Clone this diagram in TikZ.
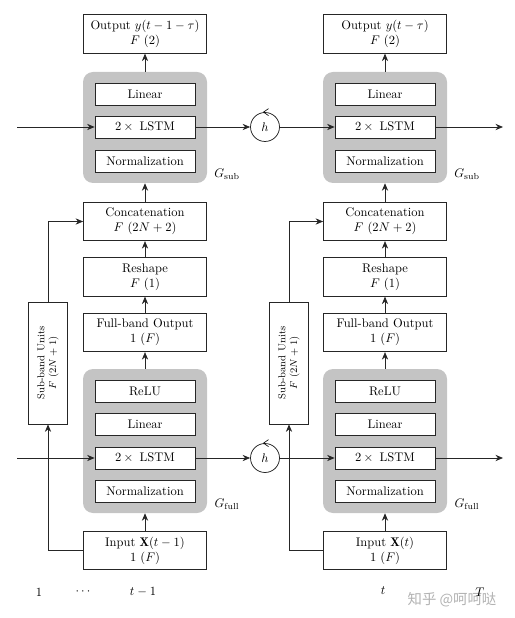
\documentclass[tikz,border=0pt]{standalone}
\usepackage{fontspec}
\newfontfamily\cjk{Noto Sans CJK SC}
\usetikzlibrary{arrows.meta,calc}
\begin{document}
\begin{tikzpicture}[x=0.8pt,y=-0.8pt,
  box/.style={draw=black!85,line width=0.6pt,fill=white,inner sep=0pt,align=center,font=\normalsize},
  outerbox/.style={box,minimum width=98.4pt,minimum height=30.8pt},
  innerbox/.style={box,minimum width=80pt,minimum height=17.6pt},
  graybox/.style={fill=black!23,rounded corners=8pt,inner sep=0pt},
  subbox/.style={box,rotate=90,minimum width=97.6pt,minimum height=31.2pt,font=\footnotesize},
  hnode/.style={draw=black!85,line width=0.6pt,circle,minimum size=23.2pt,inner sep=0pt,fill=white},
  arr/.style={-{Stealth[length=6pt,width=5pt]},line width=0.6pt,draw=black!85},
  lab/.style={inner sep=0pt}
]
\useasboundingbox (0,0) rectangle (514,618);
\foreach \c/\x/\sx/\outtxt/\intxt in {L/145/48/{Output $y(t-1-\tau)$}/{Input $\mathbf{X}(t-1)$}, R/385/289/{Output $y(t-\tau)$}/{Input $\mathbf{X}(t)$}}{
  % gray blocks
  \node[graybox,minimum width=99.2pt,minimum height=88.8pt] (gsub\c) at (\x,127.5) {};
  \node[graybox,minimum width=99.2pt,minimum height=115.2pt] (gfull\c) at (\x,441) {};
  % sub-band blocks
  \node[innerbox] (lins\c) at (\x,94) {Linear};
  \node[innerbox] (lstms\c) at (\x,127) {$2\,\times\,$ LSTM};
  \node[innerbox] (norms\c) at (\x,161) {Normalization};
  % full-band blocks
  \node[innerbox] (relu\c) at (\x,391) {ReLU};
  \node[innerbox] (linf\c) at (\x,424.5) {Linear};
  \node[innerbox] (lstmf\c) at (\x,458) {$2\,\times\,$ LSTM};
  \node[innerbox] (normf\c) at (\x,491) {Normalization};
  % outer boxes
  \node[outerbox] (out\c) at (\x,34) {\outtxt\\$F\ (2)$};
  \node[outerbox] (cat\c) at (\x,221.5) {Concatenation\\$F\ (2N+2)$};
  \node[outerbox] (resh\c) at (\x,277) {Reshape\\$F\ (1)$};
  \node[outerbox] (fbo\c) at (\x,332.5) {Full-band Output\\$1\ (F)$};
  \node[outerbox] (in\c) at (\x,550.5) {\intxt\\$1\ (F)$};
  \node[subbox] (sub\c) at (\sx,363) {Sub-band Units\\$F\ (2N+1)$};
  % labels
  \node[lab] (gsl\c) at (\x+82,174) {$G_{\mathrm{sub}}$};
  \node[lab] (gfl\c) at (\x+82,504) {$G_{\mathrm{full}}$};
  % vertical arrows
  \draw[arr] (gsub\c.north) -- (out\c.south);
  \draw[arr] (cat\c.north) -- (gsub\c.south);
  \draw[arr] (resh\c.north) -- (cat\c.south);
  \draw[arr] (fbo\c.north) -- (resh\c.south);
  \draw[arr] (gfull\c.north) -- (fbo\c.south);
  \draw[arr] (in\c.north) -- (gfull\c.south);
  \draw[arr] (in\c.west) -| (sub\c.west);
  \draw[arr] (sub\c.east) |- (cat\c.west);
}
% recurrent states
\node[hnode] (hS) at (265,127) {$h$};
\node[hnode] (hF) at (265,458) {$h$};
\foreach \h in {hS,hF}{
  \draw[line width=0.5pt] ($(\h.north)+(3.5,-3.5)$) -- ($(\h.north)+(-1.5,0)$) -- ($(\h.north)+(3.5,3.5)$);
}
\coordinate (startS) at (17,127);
\coordinate (endS) at (503,127);
\coordinate (startF) at (17,458);
\coordinate (endF) at (503,458);
\draw[arr] (startS) -- (lstmsL.west);
\draw[arr] (lstmsL.east) -- (hS.west);
\draw[arr] (hS.east) -- (lstmsR.west);
\draw[arr] (lstmsR.east) -- (endS);
\draw[arr] (startF) -- (lstmfL.west);
\draw[arr] (lstmfL.east) -- (hF.west);
\draw[arr] (hF.east) -- (lstmfR.west);
\draw[arr] (lstmfR.east) -- (endF);
% time labels
\node[lab] (t1) at (39,592) {$1$};
\node[lab] (tdots) at (83,592) {$\cdots$};
\node[lab] (tm1) at (143,592) {$t-1$};
\node[lab] (tt) at (383,591) {$t$};
\node[lab,text=black!30,font=\cjk\fontsize{11.5}{12}\selectfont] (wm) at (452,600) {知乎 @呵呵哒};
\node[lab] (tT) at (480,592) {$T$};
\end{tikzpicture}
\end{document}
